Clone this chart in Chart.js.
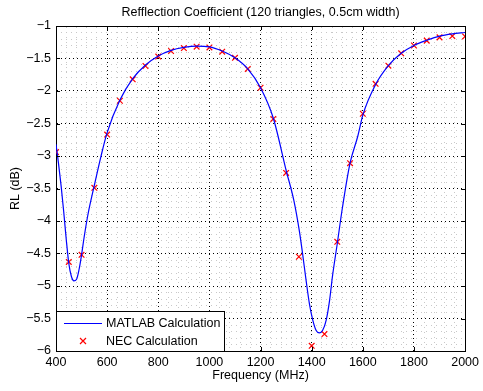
<!DOCTYPE html>
<html>
<head>
<meta charset="utf-8">
<script src="https://cdn.jsdelivr.net/npm/chart.js@4/dist/chart.umd.min.js"></script>
<style>
  html, body { margin: 0; padding: 0; background: #fff; }
</style>
</head>
<body>
<canvas id="myChart" width="483" height="391"></canvas>
<script>
// values
const titleText = 'Refflection Coefficient (120 triangles, 0.5cm width)';
const xLabel = 'Frequency (MHz)';
const yLabel = 'RL (dB)';

const freqMatlab = [400, 410, 420, 430, 440, 450, 460, 470, 480, 490, 500, 510, 525, 550, 575, 600, 650, 700, 750, 800,
  850, 900, 950, 1000, 1050, 1100, 1150, 1200, 1250, 1300, 1330, 1352, 1365, 1378, 1391, 1404, 1417, 1430, 1443,
  1457, 1470, 1482, 1500, 1520, 1550, 1580, 1600, 1650, 1700, 1750, 1800, 1850, 1900, 1950, 2000];
const rlMatlab = [-2.82, -3.12, -3.46, -3.85, -4.28, -4.65, -4.85, -4.92, -4.90, -4.75, -4.52, -4.25, -3.90, -3.45, -3.02, -2.64, -2.14, -1.81, -1.60, -1.46,
  -1.375, -1.33, -1.31, -1.32, -1.385, -1.49, -1.66, -1.95, -2.42, -3.22, -3.68, -4.16, -4.52, -4.91, -5.27, -5.52, -5.68, -5.72, -5.68,
  -5.52, -5.22, -4.83, -4.35, -3.80, -3.11, -2.70, -2.37, -1.90, -1.61, -1.42, -1.30, -1.22, -1.155, -1.12, -1.10];

const freqNEC = [400, 450, 500, 550, 600, 650, 700, 750, 800, 850, 900, 950, 1000, 1050, 1100, 1150, 1200,
  1250, 1300, 1350, 1400, 1450, 1500, 1550, 1600, 1650, 1700, 1750, 1800, 1850, 1900, 1950, 2000];
const rlNEC = [-2.94, -4.63, -4.52, -3.49, -2.67, -2.15, -1.82, -1.615, -1.47, -1.385, -1.34, -1.318, -1.33, -1.395, -1.49, -1.66, -1.95,
  -2.43, -3.26, -4.55, -5.92, -5.74, -4.32, -3.11, -2.35, -1.89, -1.61, -1.42, -1.30, -1.225, -1.175, -1.155, -1.16];

const FONT = '"Liberation Sans", Arial, Helvetica, sans-serif';
const minus = v => String(v).replace('-', '\u2212');

const matlabPts = freqMatlab.map((f, i) => ({x: f, y: rlMatlab[i]}));
const necPts = freqNEC.map((f, i) => ({x: f, y: rlNEC[i]}));

// title over plot area, inward tick marks, legend box inside plot
const extras = {
  id: 'extras',
  afterDraw(chart) {
    const {ctx, chartArea: a, scales} = chart;
    ctx.save();
    ctx.strokeStyle = '#000';
    ctx.lineWidth = 1;
    ctx.beginPath();
    scales.x.ticks.forEach(t => {
      const px = Math.round(scales.x.getPixelForValue(t.value)) + 0.5;
      ctx.moveTo(px, a.bottom); ctx.lineTo(px, a.bottom - 4);
      ctx.moveTo(px, a.top); ctx.lineTo(px, a.top + 4);
    });
    scales.y.ticks.forEach(t => {
      const py = Math.round(scales.y.getPixelForValue(t.value)) + 0.5;
      ctx.moveTo(a.left, py); ctx.lineTo(a.left + 4, py);
      ctx.moveTo(a.right, py); ctx.lineTo(a.right - 4, py);
    });
    ctx.stroke();

    ctx.fillStyle = '#000';
    ctx.font = '12.5px ' + FONT;
    ctx.textAlign = 'center';
    ctx.textBaseline = 'middle';
    ctx.fillText(titleText, (a.left + a.right) / 2, 13);

    // legend
    const lx = a.left, ly = a.bottom - 40, lw = 168, lh = 40;
    ctx.fillStyle = '#fff';
    ctx.fillRect(lx, ly, lw, lh);
    ctx.strokeStyle = '#000';
    ctx.strokeRect(lx + 0.5, ly + 0.5, lw, lh);
    const ds = chart.data.datasets;
    ctx.strokeStyle = ds[0].borderColor;
    ctx.lineWidth = ds[0].borderWidth;
    ctx.beginPath();
    ctx.moveTo(lx + 8, ly + 12.5); ctx.lineTo(lx + 46, ly + 12.5);
    ctx.stroke();
    ctx.strokeStyle = ds[1].borderColor;
    ctx.lineWidth = ds[1].borderWidth;
    ctx.beginPath();
    ctx.moveTo(lx + 24, ly + 27); ctx.lineTo(lx + 30, ly + 33);
    ctx.moveTo(lx + 30, ly + 27); ctx.lineTo(lx + 24, ly + 33);
    ctx.stroke();
    ctx.fillStyle = '#000';
    ctx.textAlign = 'left';
    ctx.fillText(ds[0].label, lx + 50, ly + 13);
    ctx.fillText(ds[1].label, lx + 50, ly + 31);
    ctx.restore();
  }
};

const isMajorY = v => Math.abs(v * 2 - Math.round(v * 2)) < 1e-6;

new Chart(document.getElementById('myChart').getContext('2d'), {
  type: 'scatter',
  data: {
    datasets: [
      {
        label: 'MATLAB Calculation',
        data: matlabPts,
        showLine: true,
        borderColor: '#0000ff',
        borderWidth: 1.2,
        pointRadius: 0,
        cubicInterpolationMode: 'monotone'
      },
      {
        label: 'NEC Calculation',
        data: necPts,
        showLine: false,
        borderColor: '#ff0000',
        backgroundColor: '#ff0000',
        pointStyle: 'crossRot',
        pointRadius: 4,
        borderWidth: 1.2
      }
    ]
  },
  options: {
    responsive: false,
    animation: false,
    layout: { padding: 0 },
    plugins: {
      legend: { display: false },
      title: { display: false },
      tooltip: { enabled: false }
    },
    scales: {
      x: {
        type: 'linear',
        position: 'bottom',
        min: 400,
        max: 2000,
        afterFit: s => { s.height = 40; },
        ticks: { stepSize: 200, color: '#000', font: { family: FONT, size: 12.5 }, padding: 4, maxRotation: 0, autoSkip: false, callback: v => String(v) },
        grid: { color: '#000', drawTicks: false },
        border: { display: true, color: '#000', width: 1, dash: [1, 3] },
        title: { display: true, text: xLabel, color: '#000', font: { family: FONT, size: 12.5 }, padding: { top: 0, bottom: 7.5 } }
      },
      x2: {
        type: 'linear',
        position: 'top',
        min: 400,
        max: 2000,
        afterFit: s => { s.height = 26; },
        ticks: { stepSize: 40, display: false },
        grid: { color: c => (c.tick && c.tick.value % 200 === 0) ? 'rgba(0,0,0,0)' : '#c8c8c8', drawTicks: false },
        border: { display: true, color: '#000', width: 1, dash: [1, 4] }
      },
      y: {
        type: 'linear',
        position: 'left',
        min: -6,
        max: -1,
        afterFit: s => { s.width = 56; },
        ticks: { stepSize: 0.5, color: '#000', font: { family: FONT, size: 12.5 }, padding: 5, callback: v => minus(v) },
        grid: { color: '#000', drawTicks: false },
        border: { display: true, color: '#000', width: 1, dash: [1, 3] },
        title: { display: true, text: yLabel, color: '#000', font: { family: FONT, size: 12.5 }, padding: { top: 8.5, bottom: 0 } }
      },
      y2: {
        type: 'linear',
        position: 'right',
        min: -6,
        max: -1,
        afterFit: s => { s.width = 17; },
        ticks: { stepSize: 0.1, display: false },
        grid: { color: c => (c.tick && isMajorY(c.tick.value)) ? 'rgba(0,0,0,0)' : '#c8c8c8', drawTicks: false },
        border: { display: true, color: '#000', width: 1, dash: [1, 4] }
      }
    }
  },
  plugins: [extras]
});
</script>
</body>
</html>
